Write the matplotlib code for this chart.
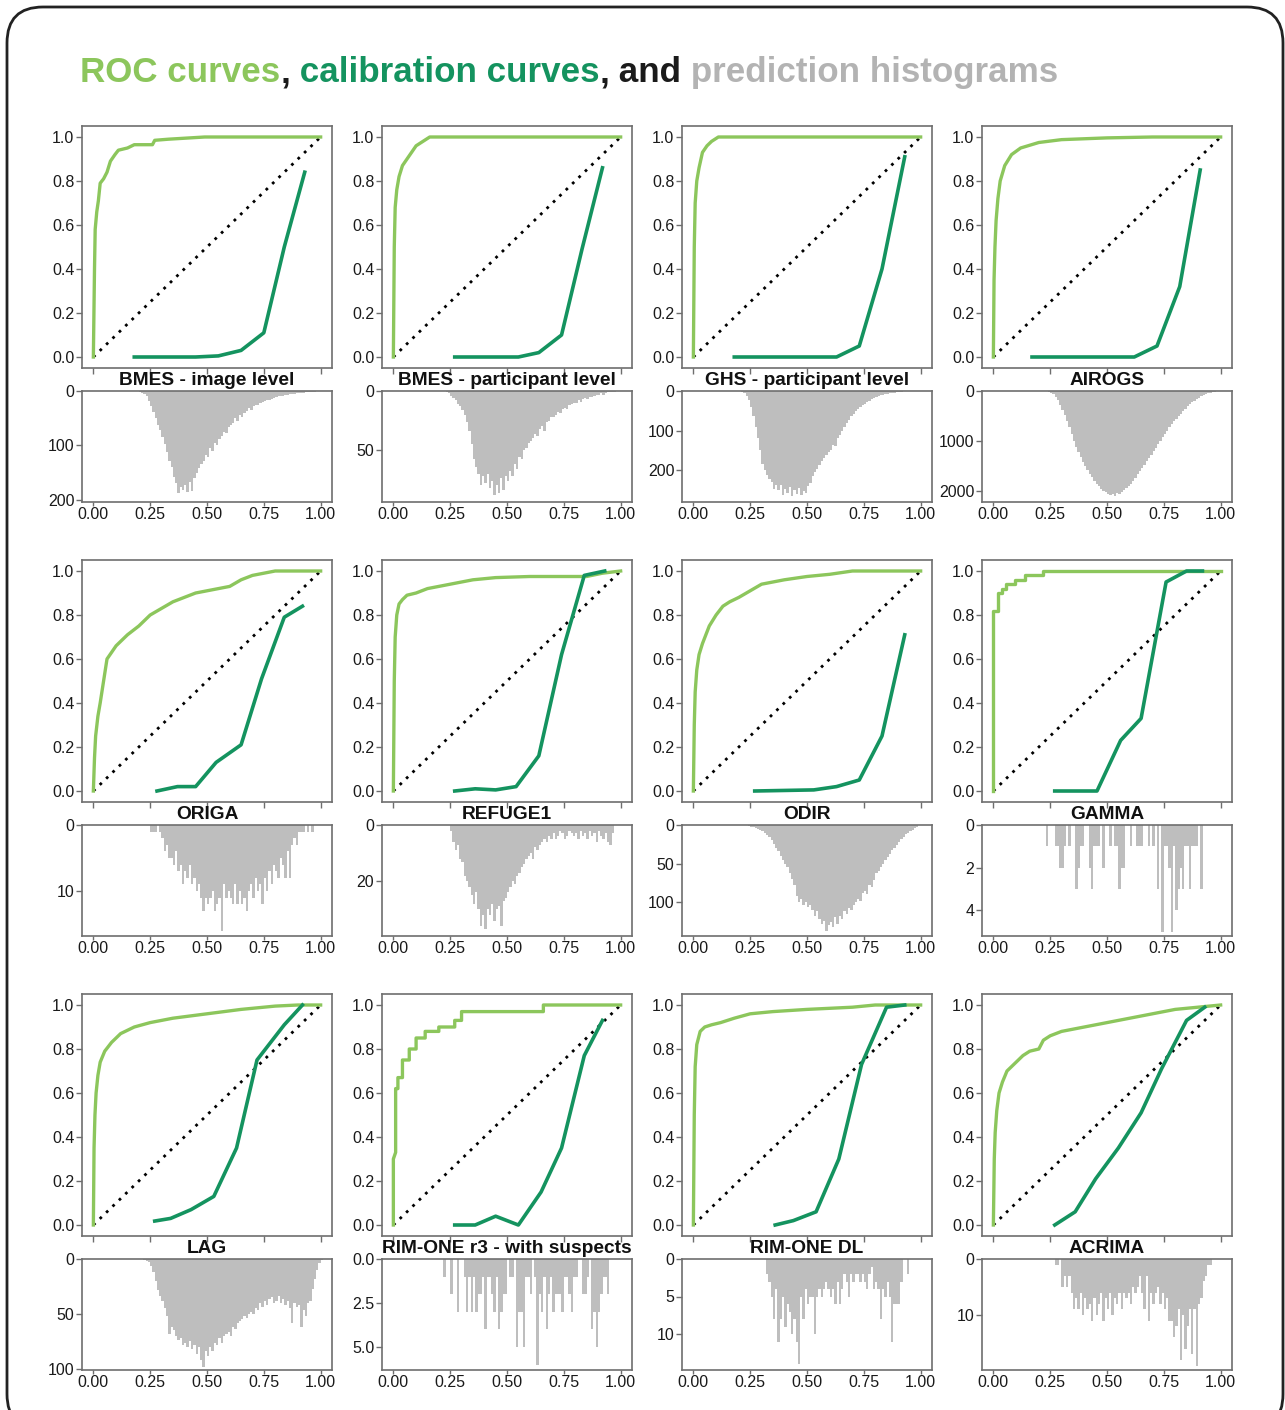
import matplotlib
matplotlib.use("Agg")
import matplotlib.pyplot as plt
from matplotlib.patches import FancyBboxPatch
import numpy as np

# panel names, in reading order
names = ["BMES - image level", "BMES - participant level", "GHS - participant level", "AIROGS",
         "ORIGA", "REFUGE1", "ODIR", "GAMMA",
         "LAG", "RIM-ONE r3 - with suspects", "RIM-ONE DL", "ACRIMA"]

# ROC curves (false positive rate, true positive rate)
roc_fpr = [
    [0, 0.005, 0.008, 0.015, 0.022, 0.03, 0.045, 0.06, 0.075, 0.095, 0.11, 0.15, 0.18, 0.26, 0.27, 0.33, 0.49, 1.0],
    [0, 0.004, 0.008, 0.015, 0.025, 0.04, 0.06, 0.08, 0.1, 0.13, 0.16, 1.0],
    [0, 0.004, 0.008, 0.015, 0.025, 0.04, 0.06, 0.08, 0.11, 1.0],
    [0, 0.003, 0.007, 0.012, 0.02, 0.03, 0.05, 0.08, 0.12, 0.2, 0.3, 0.5, 0.7, 1.0],
    [0, 0.005, 0.01, 0.02, 0.03, 0.045, 0.06, 0.08, 0.1, 0.12, 0.15, 0.2, 0.25, 0.3, 0.35, 0.4, 0.45, 0.5, 0.55, 0.6, 0.65, 0.7, 0.75, 0.8, 1.0],
    [0, 0.004, 0.008, 0.015, 0.025, 0.04, 0.06, 0.1, 0.15, 0.2, 0.3, 0.35, 0.45, 0.6, 0.85, 0.92, 1.0],
    [0, 0.004, 0.008, 0.015, 0.025, 0.04, 0.055, 0.07, 0.1, 0.13, 0.16, 0.2, 0.25, 0.3, 0.4, 0.5, 0.6, 0.7, 1.0],
    [0, 0, 0.022, 0.022, 0.037, 0.037, 0.056, 0.056, 0.096, 0.096, 0.137, 0.137, 0.22, 0.22, 1.0],
    [0, 0.003, 0.007, 0.012, 0.02, 0.03, 0.05, 0.08, 0.12, 0.18, 0.25, 0.35, 0.5, 0.65, 0.8, 0.9, 1.0],
    [0, 0, 0.01, 0.01, 0.02, 0.02, 0.04, 0.04, 0.07, 0.07, 0.1, 0.1, 0.14, 0.14, 0.2, 0.2, 0.27, 0.27, 0.3, 0.3, 0.66, 0.66, 1.0],
    [0, 0.004, 0.008, 0.015, 0.03, 0.05, 0.08, 0.12, 0.18, 0.25, 0.35, 0.5, 0.7, 0.8, 1.0],
    [0, 0.004, 0.008, 0.015, 0.025, 0.04, 0.06, 0.08, 0.1, 0.13, 0.16, 0.2, 0.22, 0.25, 0.3, 0.35, 0.4, 0.45, 0.5, 0.6, 0.7, 0.8, 0.9, 1.0],
]
roc_tpr = [
    [0, 0.40, 0.58, 0.66, 0.71, 0.79, 0.81, 0.84, 0.89, 0.92, 0.94, 0.95, 0.965, 0.965, 0.985, 0.99, 1.0, 1.0],
    [0, 0.5, 0.68, 0.76, 0.82, 0.87, 0.9, 0.93, 0.96, 0.98, 1.0, 1.0],
    [0, 0.5, 0.7, 0.8, 0.86, 0.93, 0.96, 0.98, 1.0, 1.0],
    [0, 0.35, 0.5, 0.62, 0.72, 0.8, 0.87, 0.92, 0.95, 0.975, 0.988, 0.996, 1.0, 1.0],
    [0, 0.15, 0.25, 0.34, 0.4, 0.5, 0.6, 0.63, 0.66, 0.68, 0.71, 0.75, 0.8, 0.83, 0.86, 0.88, 0.9, 0.91, 0.92, 0.93, 0.96, 0.98, 0.99, 1.0, 1.0],
    [0, 0.5, 0.7, 0.8, 0.85, 0.87, 0.89, 0.9, 0.92, 0.93, 0.95, 0.96, 0.97, 0.975, 0.975, 0.99, 1.0],
    [0, 0.3, 0.45, 0.55, 0.62, 0.67, 0.71, 0.75, 0.8, 0.84, 0.86, 0.88, 0.91, 0.94, 0.96, 0.975, 0.985, 1.0, 1.0],
    [0, 0.82, 0.82, 0.90, 0.90, 0.92, 0.92, 0.94, 0.94, 0.96, 0.96, 0.98, 0.98, 1.0, 1.0],
    [0, 0.35, 0.5, 0.6, 0.68, 0.74, 0.79, 0.83, 0.87, 0.9, 0.92, 0.94, 0.96, 0.98, 0.995, 1.0, 1.0],
    [0, 0.3, 0.33, 0.62, 0.62, 0.67, 0.67, 0.75, 0.75, 0.8, 0.8, 0.85, 0.85, 0.88, 0.88, 0.9, 0.9, 0.93, 0.93, 0.97, 0.97, 1.0, 1.0],
    [0, 0.5, 0.72, 0.82, 0.88, 0.9, 0.91, 0.92, 0.94, 0.96, 0.97, 0.98, 0.99, 1.0, 1.0],
    [0, 0.3, 0.42, 0.52, 0.6, 0.65, 0.7, 0.72, 0.74, 0.77, 0.79, 0.8, 0.84, 0.86, 0.88, 0.89, 0.9, 0.91, 0.92, 0.94, 0.96, 0.98, 0.99, 1.0],
]

# calibration curves (mean predicted, fraction positive)
cal_x = [
    [0.18, 0.45, 0.55, 0.65, 0.75, 0.84, 0.93],
    [0.27, 0.55, 0.64, 0.74, 0.83, 0.92],
    [0.18, 0.63, 0.73, 0.83, 0.93],
    [0.17, 0.62, 0.72, 0.82, 0.91],
    [0.28, 0.37, 0.45, 0.54, 0.65, 0.74, 0.84, 0.92],
    [0.27, 0.36, 0.45, 0.54, 0.64, 0.74, 0.84, 0.93],
    [0.27, 0.53, 0.63, 0.73, 0.83, 0.93],
    [0.27, 0.456, 0.56, 0.65, 0.76, 0.85, 0.92],
    [0.27, 0.34, 0.43, 0.53, 0.63, 0.72, 0.84, 0.92],
    [0.27, 0.36, 0.45, 0.55, 0.65, 0.74, 0.84, 0.92],
    [0.36, 0.44, 0.54, 0.64, 0.74, 0.85, 0.93],
    [0.27, 0.36, 0.45, 0.55, 0.65, 0.74, 0.85, 0.93],
]
cal_y = [
    [0, 0, 0.005, 0.03, 0.11, 0.50, 0.84],
    [0, 0, 0.02, 0.10, 0.49, 0.86],
    [0, 0, 0.05, 0.40, 0.91],
    [0, 0, 0.05, 0.32, 0.85],
    [0, 0.02, 0.02, 0.13, 0.21, 0.51, 0.79, 0.84],
    [0, 0.01, 0.005, 0.02, 0.16, 0.62, 0.98, 1.0],
    [0, 0.005, 0.02, 0.05, 0.25, 0.71],
    [0, 0, 0.23, 0.33, 0.95, 1.0, 1.0],
    [0.018, 0.03, 0.07, 0.13, 0.35, 0.75, 0.91, 1.0],
    [0, 0, 0.04, 0, 0.15, 0.35, 0.77, 0.93],
    [0, 0.02, 0.06, 0.30, 0.73, 0.99, 1.0],
    [0, 0.06, 0.21, 0.35, 0.51, 0.71, 0.93, 0.99],
]

# prediction histograms: 0.01-wide bins starting at hist_start
hist_start = [0.20, 0.23, 0.21, 0.23, 0.25, 0.25, 0.24, 0.23, 0.22, 0.22, 0.32, 0.27]
hist_counts = [
    [1, 3, 6, 10, 18, 28, 38, 50, 62, 72,
     85, 98, 112, 128, 140, 158, 170, 188, 176, 182,
     172, 186, 168, 184, 160, 150, 142, 135, 128, 118,
     122, 105, 110, 95, 100, 88, 82, 75, 78, 66,
     62, 58, 50, 55, 45, 48, 40, 36, 32, 34,
     28, 25, 26, 22, 20, 18, 16, 17, 14, 12,
     11, 10, 9, 10, 8, 7, 6, 6, 5, 4,
     4, 3, 3, 2, 2, 1, 1, 1],
    [1, 2, 4, 6, 8, 11, 13,
     16, 20, 26, 34, 45, 58, 64, 70, 80, 72,
     78, 70, 82, 76, 88, 80, 86, 74, 84, 72,
     76, 68, 72, 62, 66, 56, 58, 50, 48, 44,
     42, 40, 36, 38, 32, 30, 34, 26, 25, 22,
     22, 20, 18, 19, 15, 14, 15, 12, 11, 10,
     10, 8, 9, 7, 6, 7, 5, 5, 4, 3,
     3, 2, 3, 2, 1, 1, 1, 1],
    [2, 6, 12, 22, 40, 62, 90, 118, 150,
     185, 200, 212, 222, 230, 246, 236, 250, 238, 262,
     248, 258, 242, 264, 250, 260, 244, 262, 252, 258,
     240, 232, 214, 205, 196, 186, 176, 168, 162, 155,
     148, 135, 140, 118, 110, 100, 92, 80, 72, 64,
     58, 50, 45, 40, 36, 32, 28, 24, 20, 17,
     15, 13, 11, 10, 8, 7, 6, 5, 4, 3,
     2, 2, 1, 1, 1],
    [5, 15, 30, 60, 110, 180, 270,
     380, 480, 600, 720, 850, 1000, 1110, 1220, 1320, 1420,
     1500, 1580, 1650, 1720, 1790, 1850, 1900, 1950, 1990, 2020,
     2050, 2070, 2060, 2090, 2040, 2060, 2010, 1980, 1940, 1900,
     1850, 1800, 1730, 1660, 1600, 1540, 1470, 1400, 1340, 1270,
     1200, 1130, 1060, 990, 920, 850, 790, 720, 660, 600,
     550, 500, 450, 400, 350, 300, 260, 220, 190, 160,
     130, 105, 80, 60, 45, 30, 20, 10, 5],
    [1, 1, 1, 0, 1,
     2, 4, 3, 5, 5, 6, 4, 7, 6, 9,
     7, 8, 6, 9, 8, 10, 9, 11, 13, 11,
     12, 11, 10, 13, 12, 11, 16, 9, 11, 10,
     11, 12, 9, 12, 10, 12, 11, 13, 10, 9,
     11, 8, 10, 9, 12, 8, 10, 7, 9, 6,
     7, 8, 5, 6, 8, 4, 8, 3, 2, 3,
     1, 1, 1, 0, 1, 0, 1],
    [2, 6, 9, 7, 12,
     13, 18, 20, 22, 25, 28, 24, 30, 36, 32,
     37, 30, 32, 28, 34, 30, 29, 36, 27, 26,
     24, 22, 20, 21, 18, 17, 15, 14, 12, 11,
     10, 12, 8, 9, 7, 6, 5, 6, 4, 5,
     3, 5, 4, 2, 3, 5, 4, 2, 3, 4,
     3, 5, 2, 4, 3, 5, 2, 4, 3, 6,
     2, 4, 5, 3, 6, 7, 3],
    [1, 2, 2, 4, 5, 7,
     8, 10, 13, 16, 20, 25, 30, 34, 40, 45,
     50, 55, 62, 70, 78, 92, 100, 96, 104, 100,
     106, 104, 110, 118, 112, 122, 128, 124, 137, 130,
     126, 132, 120, 128, 118, 122, 112, 116, 108, 110,
     104, 100, 96, 98, 88, 86, 90, 78, 80, 72,
     62, 60, 55, 50, 46, 42, 38, 32, 30, 26,
     22, 18, 16, 12, 10, 8, 6, 4, 2],
    [1, 0, 0, 0, 1, 1, 2, 2, 1, 0,
     1, 0, 0, 3, 2, 1, 1, 0, 0, 2,
     3, 1, 1, 1, 0, 2, 0, 0, 1, 0,
     1, 1, 3, 2, 2, 0, 0, 1, 0, 0,
     1, 1, 1, 0, 0, 1, 0, 1, 0, 3,
     0, 5, 1, 1, 2, 5, 1, 4, 3, 2,
     3, 1, 1, 3, 1, 1, 1, 0, 3],
    [1, 2, 3, 6, 12, 20, 28, 34,
     38, 45, 52, 68, 62, 65, 70, 74, 72, 78,
     76, 80, 75, 82, 78, 86, 80, 92, 98, 84,
     88, 80, 84, 76, 78, 72, 76, 70, 68, 66,
     70, 62, 64, 58, 56, 55, 52, 54, 50, 48,
     50, 45, 46, 40, 44, 38, 42, 36, 35, 40,
     38, 34, 40, 36, 42, 38, 45, 58, 40, 44,
     42, 62, 46, 52, 40, 38, 27, 18, 10, 4,
     1],
    [1, 0, 0, 2, 0, 0, 3, 0, 0, 1,
     3, 1, 3, 1, 3, 2, 2, 1, 4, 1,
     1, 2, 3, 1, 4, 3, 2, 2, 0, 1,
     1, 0, 5, 3, 3, 5, 1, 1, 2, 0,
     1, 6, 2, 3, 1, 4, 2, 1, 3, 2,
     2, 2, 3, 1, 1, 2, 3, 1, 1, 0,
     0, 2, 2, 1, 0, 4, 3, 5, 3, 2,
     1, 1, 2],
    [2, 3, 5, 8, 4, 11, 8, 5, 9, 6,
     7, 10, 8, 11, 14, 5, 8, 4, 6, 5,
     5, 10, 5, 4, 5, 4, 3, 4, 5, 4,
     6, 3, 6, 4, 2, 3, 5, 2, 3, 2,
     2, 3, 2, 3, 4, 2, 1, 4, 3, 4,
     8, 4, 5, 3, 5, 11, 6, 6, 6, 3,
     0, 0, 2],
    [1, 1, 0, 5, 3, 5, 3, 6, 9, 7,
     9, 6, 10, 7, 9, 8, 11, 7, 10, 8,
     6, 11, 7, 9, 6, 10, 7, 8, 6, 9,
     6, 7, 6, 8, 5, 6, 5, 3, 6, 9,
     3, 11, 6, 8, 6, 5, 8, 6, 9, 7,
     11, 11, 14, 12, 9, 18, 10, 16, 12, 9,
     17, 9, 19, 8, 7, 4, 3, 1, 1],
]
hist_ymax = [204, 94, 280, 2215, 16.8, 39.5, 144, 5.2, 101, 6.3, 14.8, 19.8]
hist_yticks = [[0, 100, 200], [0, 50], [0, 100, 200], [0, 1000, 2000],
               [0, 10], [0, 20], [0, 50, 100], [0, 2, 4],
               [0, 50, 100], [0, 2.5, 5.0], [0, 5, 10], [0, 10]]

# colours
roc_col = "#8cc65c"
cal_col = "#14935f"
hist_col = "#bebebe"
frame_col = "#6e6e6e"

W, H = 1285, 1410
fig = plt.figure(figsize=(W / 100, H / 100), dpi=100)
plt.rcParams['font.family'] = ['Liberation Sans', 'DejaVu Sans']

# rounded frame around everything
frame = FancyBboxPatch((7 / W, -20 / H), 1276 / W, (H - 7 + 20) / H,
                       boxstyle="round,pad=0,rounding_size=0.028",
                       transform=fig.transFigure, facecolor="white",
                       edgecolor="#222222", linewidth=2, zorder=-10,
                       mutation_aspect=W / H)
fig.patches.append(frame)

# multi-coloured title
pieces = [("ROC curves", roc_col), (",", "#1a1a1a"), (" calibration curves", cal_col),
          (",", "#1a1a1a"), (" and", "#1a1a1a"), (" prediction histograms", "#b3b3b3")]
renderer = fig.canvas.get_renderer()
tx = 80 / W
for txt, c in pieces:
    t = fig.text(tx, 1 - 82 / H, txt, color=c, fontsize=25.2, fontweight="bold",
                 va="baseline", ha="left")
    bb = t.get_window_extent(renderer)
    tx = bb.x1 / W

col_left = [82, 382, 682, 982]
row_top = [126, 560, 994]
hist_gap = 391 - 126

for i, name in enumerate(names):
    r, c = divmod(i, 4)
    left = col_left[c] / W
    top = row_top[r]
    ax = fig.add_axes([left, 1 - (top + 242) / H, 250 / W, 242 / H])
    axh = fig.add_axes([left, 1 - (top + hist_gap + 111) / H, 250 / W, 111 / H])

    # ROC + calibration
    ax.plot([0, 1], [0, 1], color="black", linestyle=(0, (1, 2.2)), linewidth=2, zorder=1)
    ax.plot(roc_fpr[i], roc_tpr[i], color=roc_col, linewidth=2.4, zorder=2)
    ax.plot(cal_x[i], cal_y[i], color=cal_col, linewidth=2.6, zorder=3)
    ax.set_xlim(-0.05, 1.05)
    ax.set_ylim(-0.05, 1.05)
    ax.set_xticks([0, 0.25, 0.5, 0.75, 1.0])
    ax.set_xticklabels([])
    ax.set_yticks([0, 0.2, 0.4, 0.6, 0.8, 1.0])
    ax.set_yticklabels(["0.0", "0.2", "0.4", "0.6", "0.8", "1.0"])

    # histogram, hanging downwards
    counts = np.array(hist_counts[i])
    centers = hist_start[i] + 0.005 + 0.01 * np.arange(len(counts))
    axh.bar(centers, counts, width=0.0106, color=hist_col, linewidth=0)
    axh.set_xlim(-0.05, 1.05)
    axh.set_ylim(hist_ymax[i], 0)
    axh.set_xticks([0, 0.25, 0.5, 0.75, 1.0])
    axh.set_xticklabels(["0.00", "0.25", "0.50", "0.75", "1.00"])
    axh.set_yticks(hist_yticks[i])
    if i == 9:
        axh.set_yticklabels(["0.0", "2.5", "5.0"])
    axh.text(0.5, 1.015, name, transform=axh.transAxes, ha="center", va="bottom",
             fontsize=13.8, fontweight="bold", color="#111111")

    for a in (ax, axh):
        for s in a.spines.values():
            s.set_color(frame_col)
            s.set_linewidth(1.2)
        a.tick_params(colors=frame_col, labelcolor="#1a1a1a", labelsize=11.5,
                      length=4, width=1, pad=1.5)
    axh.tick_params(axis="x", length=3, pad=0.5)

fig.savefig("out.png", dpi=100)
